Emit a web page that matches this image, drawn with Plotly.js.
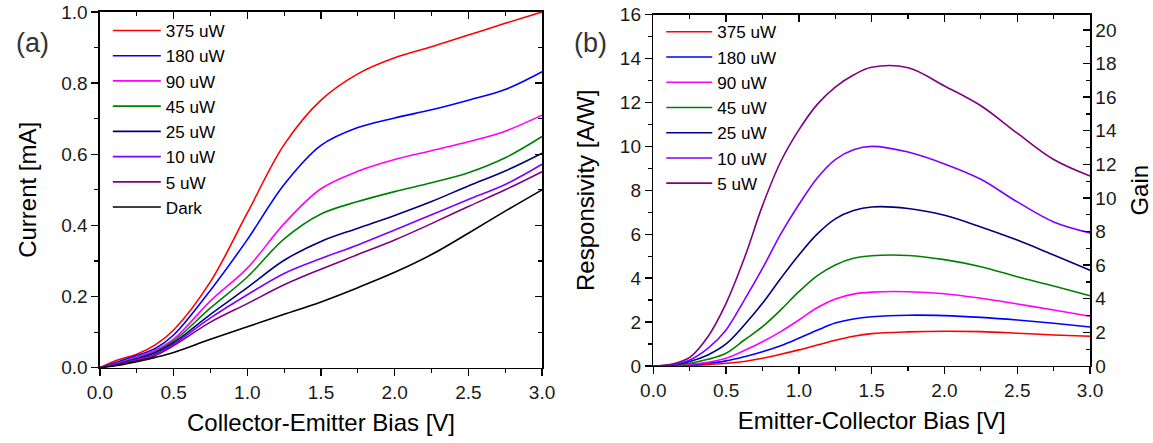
<!DOCTYPE html>
<html>
<head>
<meta charset="utf-8">
<script src="https://cdn.plot.ly/plotly-3.0.1.min.js"></script>
<style>html,body{margin:0;padding:0;background:#fff;}#chart{width:1153px;height:443px;}</style>
</head>
<body>
<div id="chart"></div>
<script>
// ---------- data: panel (a) current vs collector-emitter bias ----------
var biasA = [0, 0.125, 0.25, 0.375, 0.5, 0.75, 1.0, 1.25, 1.5, 1.75, 2.0, 2.25, 2.5, 2.75, 3.0];
var currA_375 = [0, 0.022, 0.038, 0.064, 0.106, 0.242, 0.435, 0.627, 0.752, 0.826, 0.871, 0.902, 0.935, 0.968, 1.0];
var currA_180 = [0, 0.017, 0.034, 0.054, 0.092, 0.218, 0.36, 0.515, 0.625, 0.675, 0.702, 0.725, 0.752, 0.782, 0.832];
var currA_90  = [0, 0.013, 0.03, 0.049, 0.08, 0.188, 0.28, 0.405, 0.503, 0.552, 0.585, 0.61, 0.635, 0.665, 0.71];
var currA_45  = [0, 0.012, 0.027, 0.045, 0.075, 0.168, 0.255, 0.362, 0.432, 0.467, 0.495, 0.52, 0.548, 0.59, 0.65];
var currA_25  = [0, 0.011, 0.025, 0.042, 0.07, 0.15, 0.225, 0.302, 0.355, 0.392, 0.428, 0.467, 0.511, 0.553, 0.603];
var currA_10  = [0, 0.01, 0.023, 0.038, 0.066, 0.14, 0.205, 0.265, 0.307, 0.345, 0.387, 0.43, 0.473, 0.515, 0.572];
var currA_5   = [0, 0.009, 0.02, 0.034, 0.062, 0.128, 0.18, 0.233, 0.277, 0.318, 0.359, 0.405, 0.453, 0.5, 0.551];
var currA_dark= [0, 0.007, 0.017, 0.029, 0.043, 0.08, 0.115, 0.15, 0.185, 0.225, 0.268, 0.318, 0.378, 0.44, 0.5];

// ---------- data: panel (b) responsivity vs emitter-collector bias ----------
var biasB = [0, 0.125, 0.25, 0.375, 0.5, 0.625, 0.75, 0.875, 1.0, 1.125, 1.25, 1.375, 1.5, 1.75, 2.0, 2.25, 2.5, 2.75, 3.0];
var respB_375 = [0, 0.005, 0.03, 0.06, 0.12, 0.2, 0.35, 0.53, 0.73, 0.95, 1.17, 1.35, 1.47, 1.55, 1.58, 1.56, 1.49, 1.41, 1.35];
var respB_180 = [0, 0.01, 0.06, 0.12, 0.23, 0.42, 0.65, 0.92, 1.26, 1.62, 1.95, 2.14, 2.24, 2.31, 2.29, 2.21, 2.09, 1.94, 1.77];
var respB_90  = [0, 0.01, 0.08, 0.17, 0.35, 0.7, 1.1, 1.56, 2.09, 2.65, 3.05, 3.27, 3.36, 3.38, 3.29, 3.08, 2.82, 2.55, 2.26];
var respB_45  = [0, 0.02, 0.12, 0.3, 0.58, 1.18, 1.79, 2.55, 3.38, 4.1, 4.6, 4.9, 5.02, 5.03, 4.84, 4.52, 4.06, 3.64, 3.2];
var respB_25  = [0, 0.03, 0.2, 0.5, 1.0, 1.86, 2.85, 3.98, 5.05, 6.0, 6.7, 7.08, 7.24, 7.17, 6.86, 6.33, 5.73, 5.05, 4.36];
var respB_10  = [0, 0.05, 0.27, 0.8, 1.64, 3.0, 4.44, 6.0, 7.35, 8.55, 9.4, 9.85, 10.0, 9.74, 9.2, 8.5, 7.47, 6.56, 6.06];
var respB_5   = [0, 0.08, 0.39, 1.33, 2.85, 4.9, 7.3, 9.3, 10.75, 11.9, 12.7, 13.25, 13.6, 13.58, 12.75, 11.85, 10.6, 9.4, 8.65];

var labelsA = ['375 uW', '180 uW', '90 uW', '45 uW', '25 uW', '10 uW', '5 uW', 'Dark'];
var labelsB = ['375 uW', '180 uW', '90 uW', '45 uW', '25 uW', '10 uW', '5 uW'];
var colors = ['#FF0000', '#0000FF', '#FF00FF', '#008000', '#000080', '#8000FF', '#800080', '#000000'];

var seriesA = [currA_375, currA_180, currA_90, currA_45, currA_25, currA_10, currA_5, currA_dark];
var seriesB = [respB_375, respB_180, respB_90, respB_45, respB_25, respB_10, respB_5];

// gain axis scale relative to responsivity
var gainPerResp = 1.307;
var respMax = 16;

var FONT = 'Liberation Sans, Arial, sans-serif';
var traces = [];
seriesA.forEach(function (s, i) {
  traces.push({
    x: biasA, y: s, type: 'scatter', mode: 'lines', name: labelsA[i],
    line: {color: colors[i], width: 1.6, shape: 'spline', smoothing: 1.0},
    xaxis: 'x', yaxis: 'y', legend: 'legend', hoverinfo: 'skip'
  });
});
seriesB.forEach(function (s, i) {
  traces.push({
    x: biasB, y: s, type: 'scatter', mode: 'lines', name: labelsB[i],
    line: {color: colors[i], width: 1.6, shape: 'spline', smoothing: 1.0},
    xaxis: 'x2', yaxis: 'y2', legend: 'legend2', hoverinfo: 'skip'
  });
});
// invisible carriers so the mirrored frame axes and the Gain axis get drawn
traces.push({x: biasA, y: currA_dark, type: 'scatter', mode: 'lines', opacity: 0, line: {width: 0},
  xaxis: 'x3', yaxis: 'y3', showlegend: false, hoverinfo: 'skip'});
traces.push({x: biasB, y: respB_5.map(function (v) { return v * gainPerResp; }), type: 'scatter', mode: 'lines',
  opacity: 0, line: {width: 0}, xaxis: 'x4', yaxis: 'y4', showlegend: false, hoverinfo: 'skip'});

var tickFont = {family: FONT, size: 19, color: '#1a1a1a'};
var titleFont = {family: FONT, size: 24, color: '#000'};
function baseAxis(extra) {
  var a = {
    showgrid: false, zeroline: false, showline: true, linecolor: '#000', linewidth: 1.5,
    ticks: 'outside', ticklen: 7, tickwidth: 1.3, tickcolor: '#000',
    tickfont: tickFont, fixedrange: true
  };
  for (var k in extra) a[k] = extra[k];
  return a;
}
function minorTicks(d, dir) { return {dtick: d, ticklen: 4, tickwidth: 1.2, tickcolor: '#000', ticks: dir}; }

var xdomA = [0.0867, 0.4701], ydomA = [0.170, 0.973];
var xdomB = [0.5666, 0.9454], ydomB = [0.174, 0.967];

var layout = {
  width: 1153, height: 443,
  margin: {l: 0, r: 0, t: 0, b: 0},
  paper_bgcolor: '#fff', plot_bgcolor: '#fff',
  font: {family: FONT, color: '#000'},
  showlegend: true,
  xaxis: baseAxis({domain: xdomA, anchor: 'y', range: [0, 3], dtick: 0.5, tick0: 0, tickformat: '.1f',
    minor: minorTicks(0.25, 'outside'),
    title: {text: 'Collector-Emitter Bias [V]', font: titleFont, standoff: 12}}),
  yaxis: baseAxis({domain: ydomA, anchor: 'x', range: [0, 1.0], dtick: 0.2, tick0: 0, tickformat: '.1f',
    minor: minorTicks(0.1, 'outside'),
    title: {text: 'Current [mA]', font: titleFont, standoff: 18}}),
  xaxis3: baseAxis({domain: xdomA, anchor: 'y3', overlaying: 'x', side: 'top', range: [0, 3], dtick: 0.5, tick0: 0,
    ticks: 'inside', showticklabels: false, minor: minorTicks(0.25, 'inside')}),
  yaxis3: baseAxis({domain: ydomA, anchor: 'x3', overlaying: 'y', side: 'right', range: [0, 1.0], dtick: 0.2, tick0: 0,
    ticks: 'inside', showticklabels: false, minor: minorTicks(0.1, 'inside')}),

  xaxis2: baseAxis({domain: xdomB, anchor: 'y2', range: [0, 3], dtick: 0.5, tick0: 0, tickformat: '.1f',
    minor: minorTicks(0.25, 'outside'),
    title: {text: 'Emitter-Collector Bias [V]', font: titleFont, standoff: 12}}),
  yaxis2: baseAxis({domain: ydomB, anchor: 'x2', range: [0, respMax], dtick: 2, tick0: 0,
    minor: minorTicks(1, 'outside'),
    title: {text: 'Responsivity [A/W]', font: titleFont, standoff: 18}}),
  xaxis4: baseAxis({domain: xdomB, anchor: 'y4', overlaying: 'x2', side: 'top', range: [0, 3], dtick: 0.5, tick0: 0,
    ticks: 'inside', showticklabels: false, minor: minorTicks(0.25, 'inside')}),
  yaxis4: baseAxis({domain: ydomB, anchor: 'x4', overlaying: 'y2', side: 'right', range: [0, respMax * gainPerResp],
    dtick: 2, tick0: 0, ticks: 'inside', minor: minorTicks(1, 'inside'),
    title: {text: 'Gain', font: titleFont, standoff: 15}}),

  legend: {x: 0.0935, y: 0.971, xanchor: 'left', yanchor: 'top', bgcolor: 'rgba(0,0,0,0)',
    borderwidth: 0, font: {family: FONT, size: 17.1, color: '#000'}, itemwidth: 48, tracegroupgap: 0},
  legend2: {x: 0.5735, y: 0.968, xanchor: 'left', yanchor: 'top', bgcolor: 'rgba(0,0,0,0)',
    borderwidth: 0, font: {family: FONT, size: 17.1, color: '#000'}, itemwidth: 46, tracegroupgap: 0},

  annotations: [
    {text: '(a)', xref: 'paper', yref: 'paper', x: 32 / 1153, y: 1 - 43 / 443, xanchor: 'center', yanchor: 'middle',
      showarrow: false, font: {family: FONT, size: 27, color: '#333'}},
    {text: '(b)', xref: 'paper', yref: 'paper', x: 590 / 1153, y: 1 - 43 / 443, xanchor: 'center', yanchor: 'middle',
      showarrow: false, font: {family: FONT, size: 27, color: '#333'}}
  ]
};

Plotly.newPlot('chart', traces, layout, {staticPlot: true, displayModeBar: false});
</script>
</body>
</html>
